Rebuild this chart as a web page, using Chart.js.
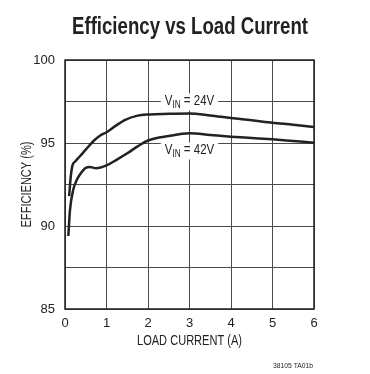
<!DOCTYPE html>
<html>
<head>
<meta charset="utf-8">
<script src="https://cdn.jsdelivr.net/npm/chart.js@4"></script>
<style>
  html, body { margin: 0; padding: 0; background: #fff; }
  #wrap { width: 370px; height: 374px; }
</style>
</head>
<body>
<div id="wrap"><canvas id="effChart" width="370" height="374"></canvas></div>
<script>
// data
const current24 = [0.1, 0.14, 0.18, 0.25, 0.36, 0.5, 0.7, 0.85, 1.0, 1.2, 1.45, 1.75, 2.0, 2.5, 3.0, 3.5, 4.0, 4.5, 5.0, 5.5, 6.0];
const eff24 = [91.8, 93.0, 93.65, 93.9, 94.2, 94.6, 95.15, 95.45, 95.65, 96.0, 96.4, 96.65, 96.72, 96.76, 96.78, 96.66, 96.5, 96.37, 96.22, 96.1, 95.96];
const current42 = [0.08, 0.12, 0.2, 0.28, 0.36, 0.5, 0.6, 0.75, 1.0, 1.25, 1.5, 1.75, 2.0, 2.5, 3.0, 3.5, 4.0, 4.5, 5.0, 5.5, 6.0];
const eff42 = [89.4, 90.95, 92.2, 92.75, 93.1, 93.5, 93.55, 93.48, 93.65, 94.0, 94.38, 94.8, 95.15, 95.42, 95.58, 95.48, 95.38, 95.3, 95.22, 95.12, 95.02];
const xTicks = [0, 1, 2, 3, 4, 5, 6];
const yTicks = [85, 90, 95, 100];
const seriesLabels = ['24V', '42V'];
const labelPos = [[3.0, 97.5], [3.0, 94.55]]; // where the V_IN labels sit, in data units

const FONT = "'Liberation Sans', Arial, sans-serif";

function toPoints(xs, ys) {
  return xs.map((x, i) => ({ x: x, y: ys[i] }));
}

// the reference uses a condensed face, so squeeze text to the width it takes there
function fitText(c, text, cx, cy, width) {
  const w = c.measureText(text).width;
  c.save();
  c.translate(cx, cy);
  c.scale(width / w, 1);
  c.textAlign = 'center';
  c.fillText(text, 0, 0);
  c.restore();
}

const textPlugin = {
  id: 'texts',
  afterDraw(chart) {
    const c = chart.ctx;
    const area = chart.chartArea;
    const xs = chart.scales.x, ys = chart.scales.y;
    c.save();
    // frame
    c.strokeStyle = '#222';
    c.lineWidth = 1.5;
    c.strokeRect(area.left, area.top, area.right - area.left, area.bottom - area.top);

    c.fillStyle = '#222';
    c.textBaseline = 'alphabetic';
    c.font = 'bold 23px ' + FONT;
    fitText(c, 'Efficiency vs Load Current', 190, 34, 236);

    c.font = '14px ' + FONT;
    fitText(c, 'LOAD CURRENT (A)', (area.left + area.right) / 2, 345, 105);

    c.save();
    c.translate(31, (area.top + area.bottom) / 2);
    c.rotate(-Math.PI / 2);
    fitText(c, 'EFFICIENCY (%)', 0, 0, 86);
    c.restore();

    c.font = '8px ' + FONT;
    fitText(c, '38105 TA01b', 293, 368, 40);

    // V_IN labels with white background
    seriesLabels.forEach((lab, i) => {
      const px = xs.getPixelForValue(labelPos[i][0]);
      const py = ys.getPixelForValue(labelPos[i][1]);
      const sx = 0.82;
      c.font = '14px ' + FONT;
      const wV = c.measureText('V').width;
      c.font = '10px ' + FONT;
      const wIn = c.measureText('IN').width;
      c.font = '14px ' + FONT;
      const rest = ' = ' + lab;
      const wRest = c.measureText(rest).width;
      const total = (wV + wIn + wRest) * sx;
      c.fillStyle = '#fff';
      c.fillRect(px - total / 2 - 4, py - 8, total + 8, 17);
      c.save();
      c.translate(px - total / 2, py);
      c.scale(sx, 1);
      c.fillStyle = '#222';
      c.textAlign = 'left';
      c.textBaseline = 'middle';
      c.fillText('V', 0, 0);
      c.font = '10px ' + FONT;
      c.fillText('IN', wV, 4);
      c.font = '14px ' + FONT;
      c.fillText(rest, wV + wIn, 0);
      c.restore();
    });
    c.restore();
  }
};

const ctx = document.getElementById('effChart').getContext('2d');
const effChart = new Chart(ctx, {
  type: 'line',
  data: {
    datasets: [{
      label: 'VIN = 24V',
      data: toPoints(current24, eff24),
      borderColor: '#222',
      borderWidth: 2.5,
      pointRadius: 0,
      cubicInterpolationMode: 'monotone',
      fill: false
    }, {
      label: 'VIN = 42V',
      data: toPoints(current42, eff42),
      borderColor: '#222',
      borderWidth: 2.5,
      pointRadius: 0,
      cubicInterpolationMode: 'monotone',
      fill: false
    }]
  },
  options: {
    responsive: false,
    animation: false,
    layout: { padding: { left: 25, right: 56, top: 60, bottom: 25 } },
    plugins: {
      legend: { display: false },
      tooltip: { enabled: false }
    },
    scales: {
      x: {
        type: 'linear',
        min: 0,
        max: 6,
        afterFit(scale) { scale.height = 40; },
        afterBuildTicks(scale) { scale.ticks = xTicks.map(v => ({ value: v })); },
        grid: { color: '#4a4a4a', lineWidth: 1, drawTicks: false },
        border: { display: false },
        ticks: {
          color: '#222',
          padding: 7,
          font: { family: FONT, size: 13 }
        }
      },
      y: {
        min: 85,
        max: 100,
        afterFit(scale) { scale.width = 40; },
        afterBuildTicks(scale) {
          const t = [];
          for (let v = 85; v <= 100; v += 2.5) t.push({ value: v });
          scale.ticks = t;
        },
        grid: { color: '#4a4a4a', lineWidth: 1, drawTicks: false },
        border: { display: false },
        ticks: {
          color: '#222',
          padding: 10,
          font: { family: FONT, size: 13 },
          callback: function (v) { return yTicks.includes(v) ? String(v) : ''; }
        }
      }
    }
  },
  plugins: [textPlugin]
});
</script>
</body>
</html>
